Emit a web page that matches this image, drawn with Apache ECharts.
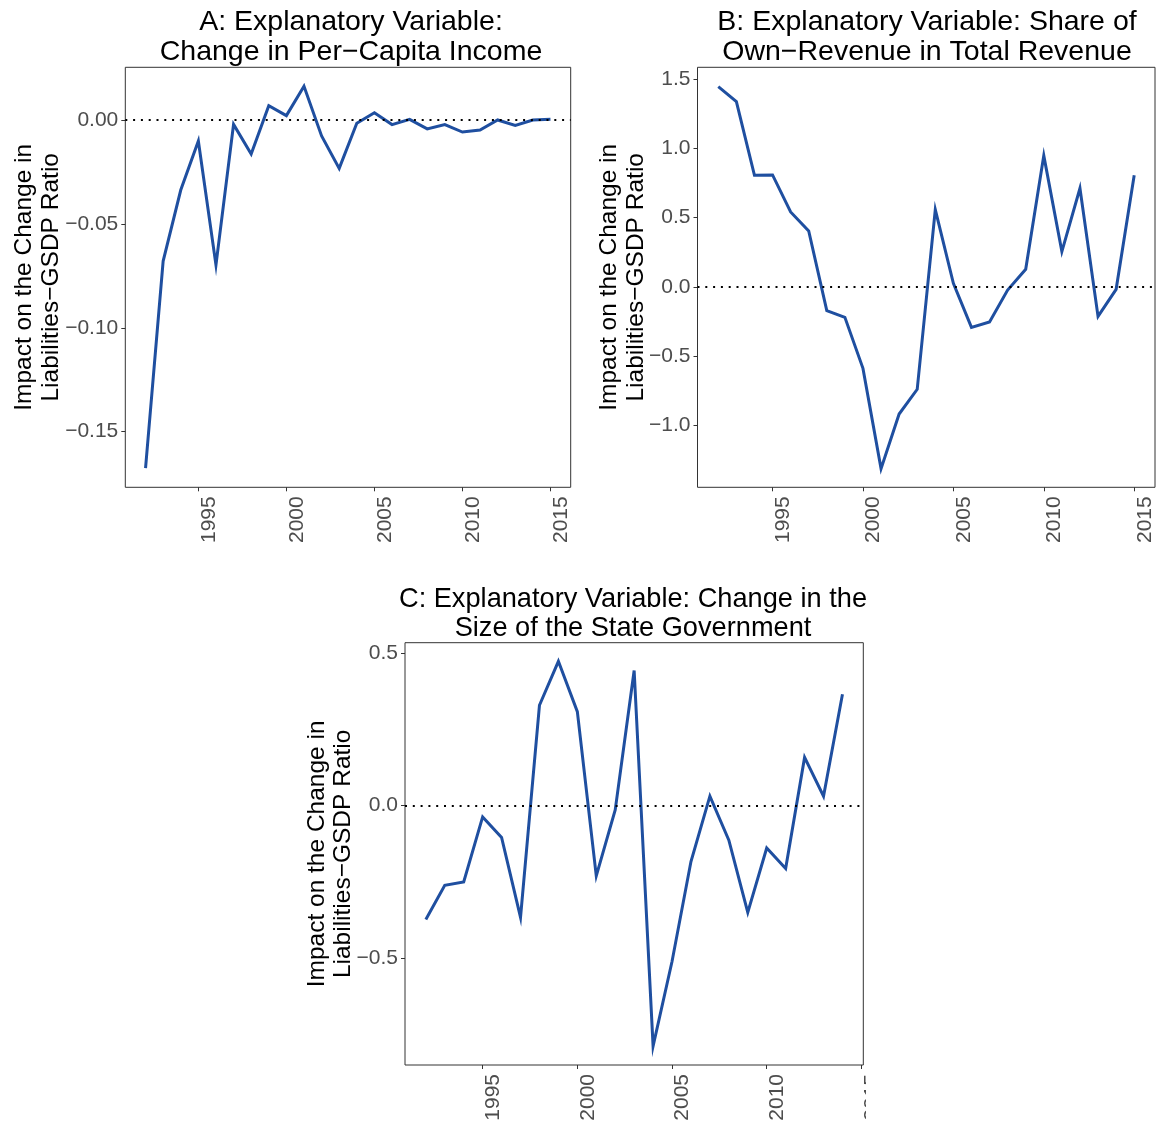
<!DOCTYPE html>
<html>
<head>
<meta charset="utf-8">
<script src="https://cdn.jsdelivr.net/npm/echarts@6/dist/echarts.min.js"></script>
<style>
  html, body { margin: 0; padding: 0; background: #fff; }
  #top, #bottom { position: absolute; left: 0; top: 0; }
  #top { width: 1157px; height: 1124px; }
  #bottom { width: 866px; height: 1124px; }
</style>
</head>
<body>
<div id="top"></div>
<div id="bottom"></div>
<script>
// Years covered by each panel
const yearsAB = [1992,1993,1994,1995,1996,1997,1998,1999,2000,2001,2002,2003,
                 2004,2005,2006,2007,2008,2009,2010,2011,2012,2013,2014,2015];
const yearsC = yearsAB.slice(0, 23);

// A: change in per-capita income
const impactIncome = [-0.1675,-0.0679,-0.0337,-0.0101,-0.0698,-0.0021,-0.0164,0.0069,
                      0.0021,0.0162,-0.0077,-0.0233,-0.0016,0.0035,-0.0022,0.0003,
                      -0.0043,-0.0022,-0.0058,-0.0048,0.0000,-0.0026,0.0000,0.0003];
// B: share of own-revenue in total revenue
const impactOwnRevenue = [1.445,1.337,0.805,0.808,0.541,0.404,-0.171,-0.219,
                          -0.587,-1.310,-0.916,-0.738,0.558,0.026,-0.291,-0.252,
                          -0.022,0.127,0.947,0.255,0.712,-0.212,-0.017,0.805];
// C: change in the size of the state government
const impactGovSize = [-0.374,-0.262,-0.251,-0.038,-0.105,-0.367,0.328,0.472,
                       0.307,-0.231,-0.015,0.442,-0.789,-0.512,-0.184,0.030,
                       -0.114,-0.351,-0.140,-0.207,0.157,0.030,0.364];

// Tick positions
const yearTicks = [1995, 2000, 2005, 2010, 2015];
const ticksA = [-0.15, -0.10, -0.05, 0.00];
const ticksB = [-1.0, -0.5, 0.0, 0.5, 1.0, 1.5];
const ticksC = [-0.5, 0.0, 0.5];

const titleA = 'A: Explanatory Variable:\nChange in Per\u2212Capita Income';
const titleB = 'B: Explanatory Variable: Share of\nOwn\u2212Revenue in Total Revenue';
const titleC = 'C: Explanatory Variable: Change in the\nSize of the State Government';
const yName = 'Impact on the Change in\nLiabilities\u2212GSDP Ratio';

const FONT = '"Liberation Sans", Arial, Helvetica, sans-serif';
const LINE_COLOR = '#1F4FA0';
const TICK_FONT = 21;

function pairs(xs, ys) { return xs.map((x, i) => [x, ys[i]]); }
function fmt(digits) {
  return v => v.toFixed(digits).replace('-', '\u2212');
}

function makeTitle(text, cx, top, size, lh) {
  return {
    text: text, left: cx, top: top, textAlign: 'center',
    textStyle: { fontFamily: FONT, fontSize: size, fontWeight: 'normal',
                 color: '#000', lineHeight: lh }
  };
}

function makeX(idx, min, max) {
  return {
    type: 'value', gridIndex: idx, min: min, max: max,
    axisLine: { show: false, onZero: false },
    splitLine: { show: false },
    axisTick: { show: true, length: 4, customValues: yearTicks,
                lineStyle: { color: '#333', width: 1 } },
    axisLabel: { customValues: yearTicks, rotate: 90, margin: 9,
                 verticalAlign: 'top',
                 fontFamily: FONT, fontSize: TICK_FONT, color: '#4D4D4D',
                 formatter: v => String(v) }
  };
}

function makeY(idx, min, max, ticks, digits, gap) {
  return {
    type: 'value', gridIndex: idx, min: min, max: max,
    name: yName, nameLocation: 'middle', nameRotate: 90, nameGap: gap,
    nameMoveOverlap: false,
    nameTextStyle: { fontFamily: FONT, fontSize: 24.5, color: '#000', lineHeight: 26.5 },
    axisLine: { show: false, onZero: false },
    splitLine: { show: false },
    axisTick: { show: true, length: 4, customValues: ticks,
                lineStyle: { color: '#333', width: 1 } },
    axisLabel: { customValues: ticks, margin: 7,
                 fontFamily: FONT, fontSize: TICK_FONT, color: '#4D4D4D',
                 formatter: fmt(digits) }
  };
}

function makeSeries(idx, xs, ys) {
  return {
    type: 'line', xAxisIndex: idx, yAxisIndex: idx,
    data: pairs(xs, ys), showSymbol: false, silent: true,
    lineStyle: { color: LINE_COLOR, width: 3, join: 'miter' },
    markLine: {
      silent: true, symbol: ['none', 'none'], label: { show: false },
      lineStyle: { color: '#000', width: 2, type: [2, 5.8] },
      data: [{ yAxis: 0 }]
    },
    z: 3
  };
}

function gridBox(left, top, width, height) {
  return { left: left, top: top, width: width, height: height,
           show: true, borderColor: '#333', borderWidth: 1,
           backgroundColor: 'transparent',
           containLabel: false, outerBoundsMode: 'none' };
}

// Panels A and B, plus all three panel titles
const topChart = echarts.init(document.getElementById('top'), null, { renderer: 'canvas' });
topChart.setOption({
  backgroundColor: '#fff',
  animation: false,
  title: [ makeTitle(titleA, 346, 2, 28.5, 30),
           makeTitle(titleB, 922, 2, 28.5, 30),
           makeTitle(titleC, 628, 580, 27.2, 29) ],
  grid: [ gridBox(125.3, 67.3, 445.4, 420), gridBox(697.5, 67.3, 457.5, 420) ],
  xAxis: [ makeX(0, 1990.85, 2016.15), makeX(1, 1990.85, 2016.15) ],
  yAxis: [ makeY(0, -0.17676, 0.02536, ticksA, 2, 61),
           makeY(1, -1.4446, 1.584, ticksB, 1, 48.5) ],
  series: [ makeSeries(0, yearsAB, impactIncome),
            makeSeries(1, yearsAB, impactOwnRevenue) ]
});

// Panel C, drawn in a narrower layer whose right edge trims the last year label
const bottomChart = echarts.init(document.getElementById('bottom'), null, { renderer: 'canvas' });
bottomChart.setOption({
  animation: false,
  grid: [ gridBox(405, 642.7, 458.3, 422.3) ],
  xAxis: [ makeX(0, 1990.9, 2015.1) ],
  yAxis: [ makeY(0, -0.851, 0.533, ticksC, 1, 48.5) ],
  series: [ makeSeries(0, yearsC, impactGovSize) ]
});
</script>
</body>
</html>
